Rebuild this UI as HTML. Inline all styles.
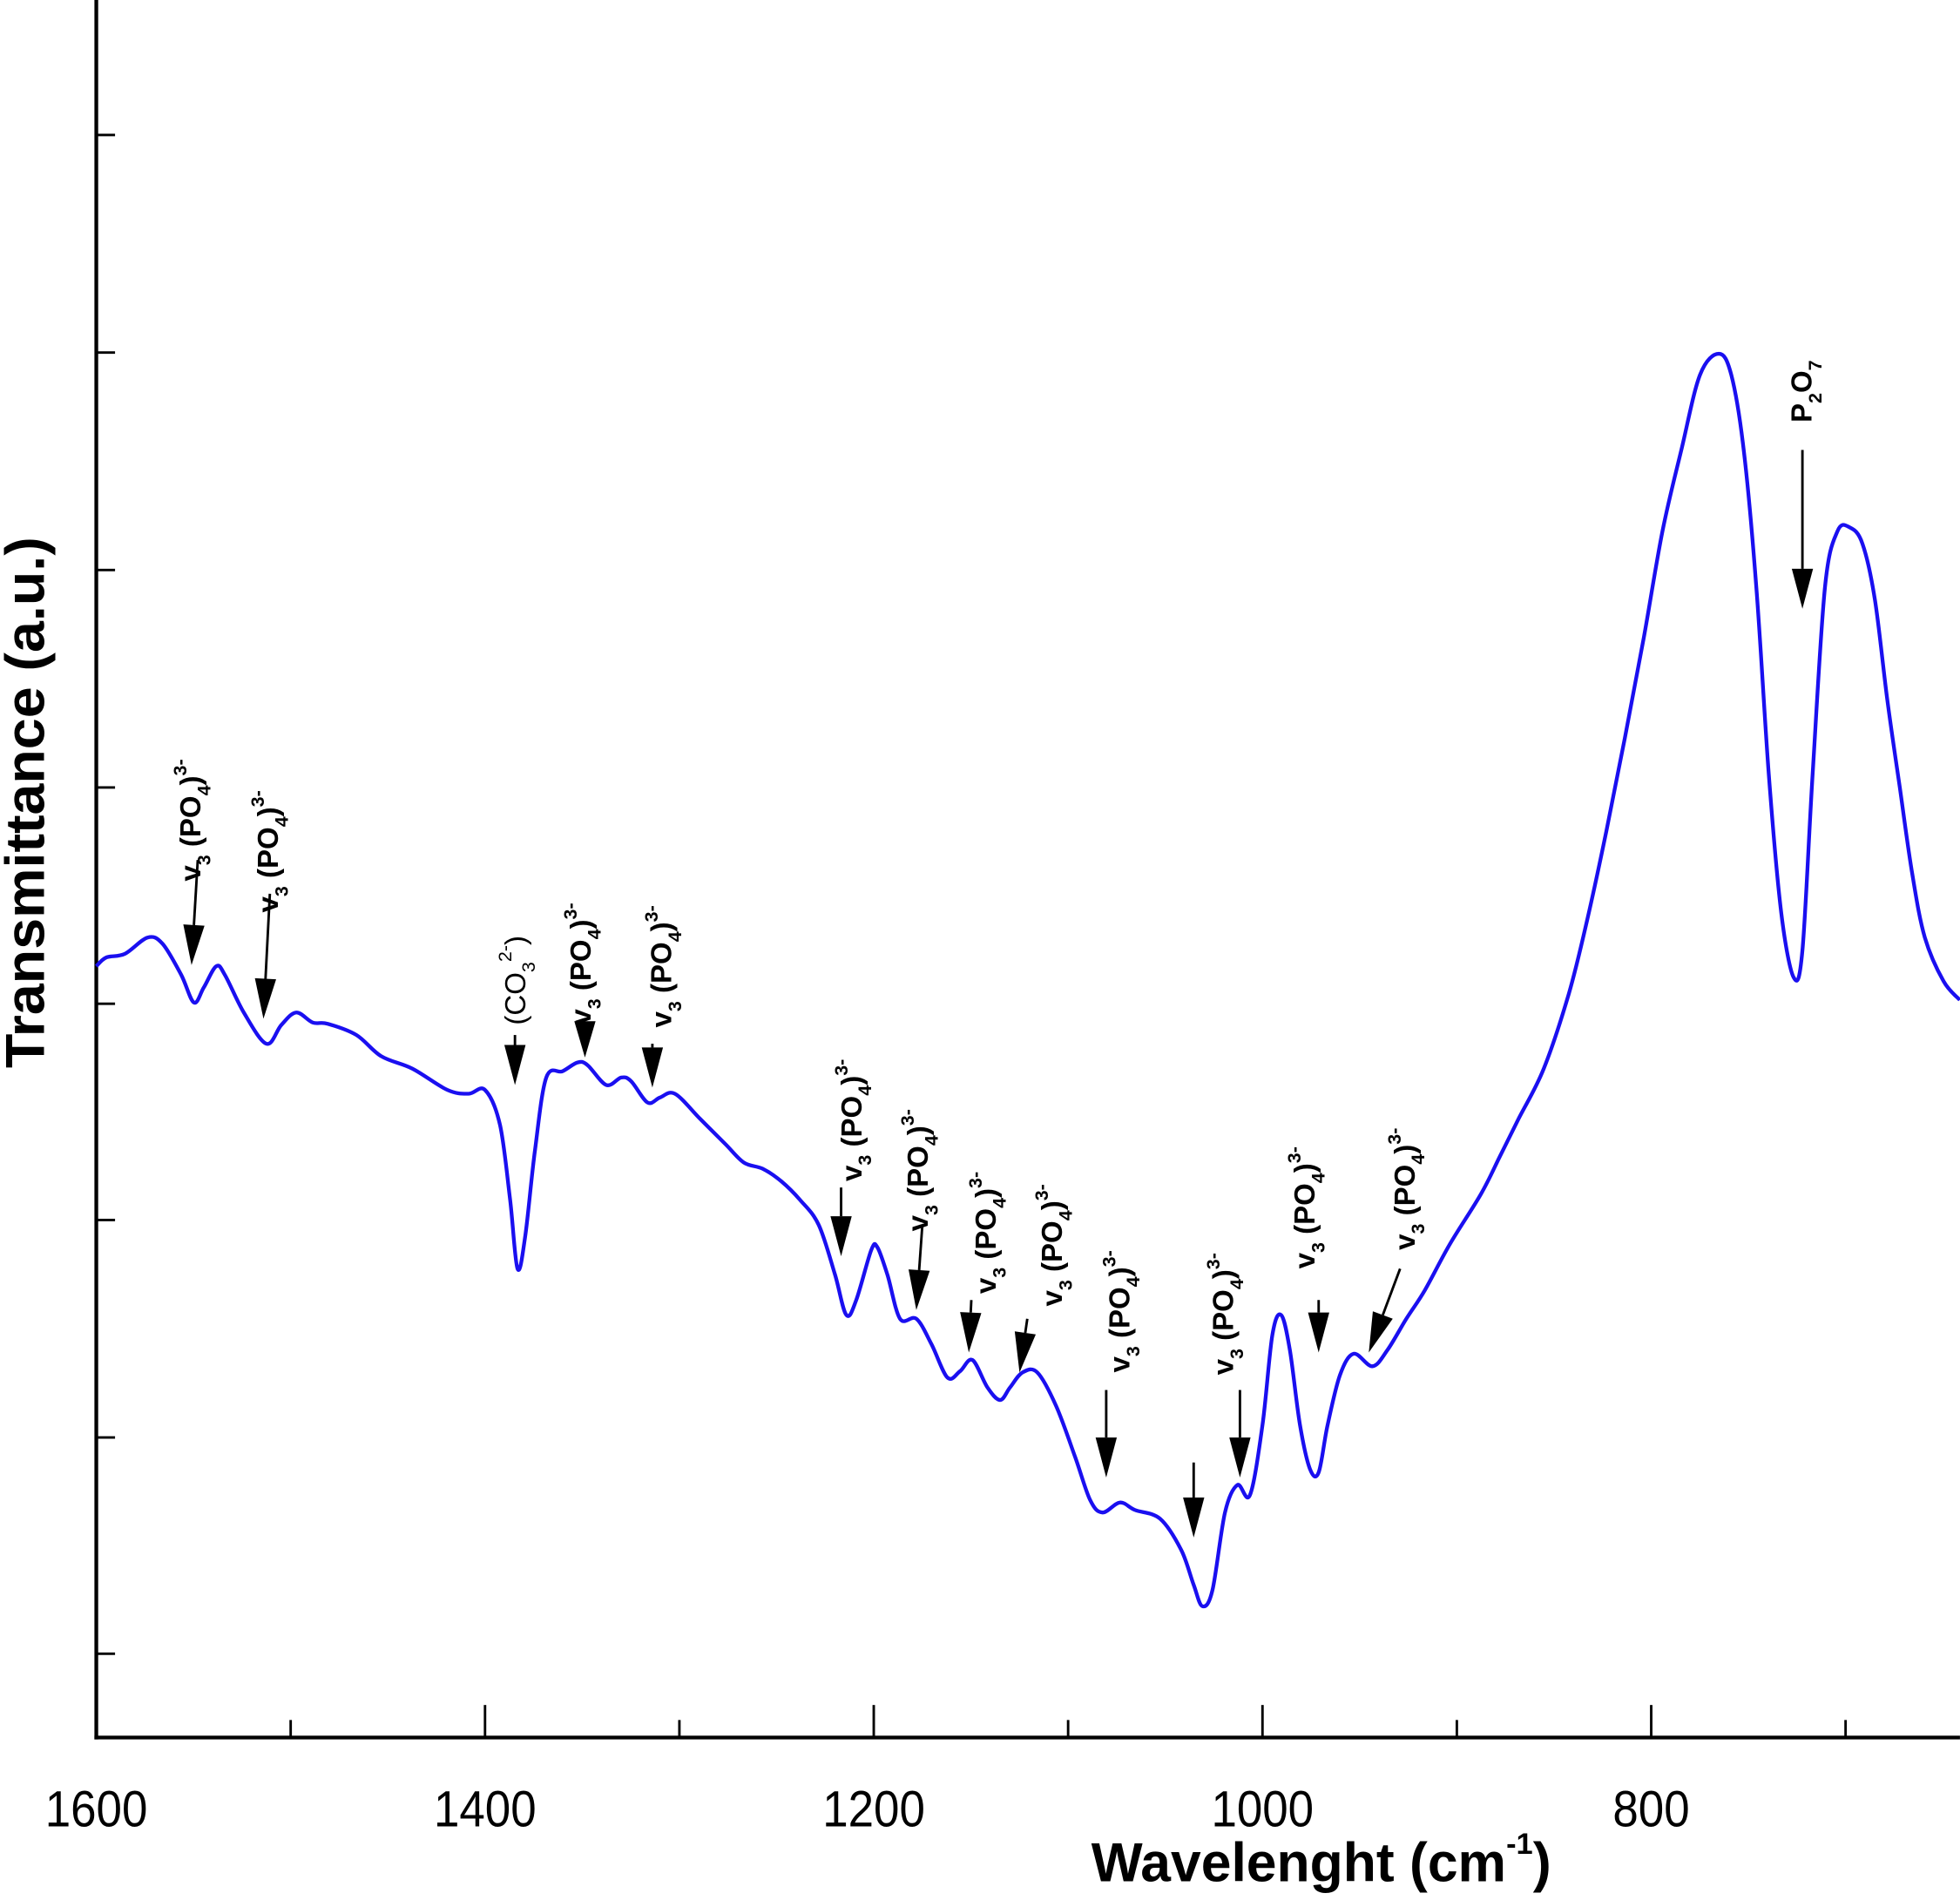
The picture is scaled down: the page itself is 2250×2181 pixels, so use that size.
<!DOCTYPE html>
<html><head><meta charset="utf-8"><style>
html,body{margin:0;padding:0;background:#fff;}
svg{display:block;}
text{font-family:"Liberation Sans",Arial,sans-serif;}
</style></head><body>
<svg id="chart" width="2250" height="2181" viewBox="0 0 1568 1520" xmlns="http://www.w3.org/2000/svg">
<rect width="1568" height="1520" fill="#fff"/>
<g id="axes"></g>
<g id="series"></g>
<g id="annots"></g>
<text transform="translate(35,642) rotate(-90)" text-anchor="middle" font-size="44" font-weight="bold" textLength="425" lengthAdjust="spacingAndGlyphs">Transmittance (a.u.)</text>
<text x="873" y="1505" font-size="44" font-weight="bold"><tspan textLength="332" lengthAdjust="spacingAndGlyphs">Wavelenght (cm</tspan><tspan dy="-22" font-size="24">-1</tspan><tspan dy="22">)</tspan></text>
</svg>
<script>
const wavenumbers=[1600,1594.9,1585.2,1573.6,1565.9,1556.3,1549.8,1544.7,1538.3,1533.8,1524.1,1512.5,1504.8,1497.1,1488.7,1481.0,1466.2,1453.4,1437.3,1419.3,1408.4,1400,1392.3,1387.1,1383.3,1379.4,1374.3,1368.5,1360.1,1352.4,1347.3,1337.6,1329.9,1324.8,1316.4,1310.0,1302.3,1289.4,1276.5,1266.9,1257.2,1247.6,1237.9,1228.3,1219.9,1214.1,1209.0,1201.3,1198.1,1192.9,1186.5,1178.1,1170.4,1162.1,1155.6,1149.2,1141.5,1135.0,1129.9,1123.5,1115.8,1106.1,1096.5,1088.7,1082.3,1073.3,1065.6,1052.7,1041.8,1035.4,1030.9,1025.7,1019.3,1012.9,1006.4,1000.0,994.9,990.4,985.9,980.7,975.6,971.1,966.5,960.1,953.1,943.4,935.7,926.0,916.4,903.5,887.5,877.8,868.2,855.3,842.4,832.8,823.1,813.5,803.8,794.2,784.5,774.9,765.2,758.8,752.4,745.9,739.5,733.1,726.7,722.2,717.0,710.6,704.2,697.8,691.3,684.9,678.5,672.1,665.6,659.2,649.6,641.2];
const transmittance=[61.7,62.4,62.7,64.0,63.5,61.0,58.8,60.0,61.7,61.0,58.0,55.5,57.0,58.0,57.2,57.1,56.2,54.5,53.5,51.8,51.5,51.8,49.0,43.0,37.5,40.0,47.0,52.8,53.3,54.0,53.8,52.2,52.8,52.5,50.8,51.2,51.5,49.5,47.5,46.0,45.5,44.5,43.0,41.0,37.0,33.8,35.0,39.0,39.2,37.0,33.5,33.5,31.5,28.8,29.3,30.2,28.0,27.0,28.0,29.2,29.2,26.5,22.5,19.0,18.0,18.8,18.2,17.5,15.0,12.2,10.5,11.8,18.0,20.2,19.4,25.0,32.2,33.8,31.0,25.0,21.5,21.2,25.0,29.0,30.7,29.7,31.0,33.5,35.8,39.5,43.5,46.5,49.5,53.5,59.5,65.5,72.5,80.0,88.0,96.5,103.0,109.0,110.7,109.0,103.0,92.0,77.0,66.0,60.8,63.0,77.0,92.0,96.5,96.8,95.5,91.0,83.0,76.0,69.0,64.0,60.5,59.0];
const xMajorTicks=[1600,1400,1200,1000,800];
const xMinorTicks=[1500,1300,1100,900,700];
const xTickLabels=["1600","1400","1200","1000","800"];
const yTicks=[128.2,110.8,93.4,76.0,58.7,41.4,24.0,6.7];
// annotations: [tail wavenumber, tail value, tip wavenumber, tip value]
const arrowData=[[1547.8,70.2,1551,61.8],[1510.7,67.5,1514,57.5],[1384.6,56.2,1384.6,52.2],[1348.6,57.3,1348.6,54.4],[1313.9,55.5,1313.9,52],[1216.8,44,1216.8,38.5],[1175,41,1178.1,34.2],[1149.8,35,1151.1,30.8],[1121,33.5,1125,29.2],[1080.4,27.8,1080.4,20.8],[1035.4,22,1035.4,16],[1011.6,27.8,1011.6,20.8],[971.1,35,971.1,30.8],[929.2,37.5,945.3,30.8],[722.2,103,722.2,90.3]];
const labelPos=[[1546.5,68.5],[1506.6,66],[1379.4,57],[1345.7,57],[1304.2,56.8],[1206.4,44.5],[1172.3,40.5],[1137.3,35.5],[1103.2,34.5],[1068.5,29.2],[1015.1,29],[973.3,37.5],[921.8,39],[717.6,105.2]];
const labelKinds=["po4","po4","co3","po4","po4","po4","po4","po4","po4","po4","po4","po4","po4","p2o7"];

const NS="http://www.w3.org/2000/svg";
const X0=77,Y0=1390;
function xs(w){return X0+(1600-w)*1.555;}
function ys(v){return Y0-v*10;}
function mk(tag,attrs,parent){const e=document.createElementNS(NS,tag);for(const k in attrs)e.setAttribute(k,attrs[k]);parent.appendChild(e);return e;}
const axes=document.getElementById('axes');
let yl=mk('line',{x1:X0,y1:0,x2:X0,y2:Y0+1.5,stroke:'#000','stroke-width':3},axes);


let xl=mk('line',{x1:X0-1.5,y1:Y0,x2:1568,y2:Y0,stroke:'#000','stroke-width':3},axes);


xMajorTicks.forEach((t,i)=>{
  const l=mk('line',{x1:xs(t),y1:Y0,x2:xs(t),y2:Y0-26,stroke:'#000','stroke-width':2},axes);
  
  
  const tx=mk('text',{x:xs(t),y:1461,'text-anchor':'middle','font-size':41,textLength:xTickLabels[i].length*20.5,lengthAdjust:'spacingAndGlyphs'},axes);
  tx.textContent=xTickLabels[i];
  
  
});
xMinorTicks.forEach(t=>{
  const l=mk('line',{x1:xs(t),y1:Y0,x2:xs(t),y2:Y0-14,stroke:'#000','stroke-width':2},axes);
  
  
});
yTicks.forEach(t=>{
  const l=mk('line',{x1:X0,y1:ys(t),x2:X0+15,y2:ys(t),stroke:'#000','stroke-width':2},axes);
  
  
});
const pts=wavenumbers.map((w,i)=>[xs(w),ys(transmittance[i])]);
let d='M'+pts[0][0]+','+pts[0][1];
for(let i=0;i<pts.length-1;i++){
  const p0=pts[Math.max(0,i-1)],p1=pts[i],p2=pts[i+1],p3=pts[Math.min(pts.length-1,i+2)];
  const c1=[p1[0]+(p2[0]-p0[0])/6,p1[1]+(p2[1]-p0[1])/6];
  const c2=[p2[0]-(p3[0]-p1[0])/6,p2[1]-(p3[1]-p1[1])/6];
  d+=' C'+c1[0].toFixed(1)+','+c1[1].toFixed(1)+' '+c2[0].toFixed(1)+','+c2[1].toFixed(1)+' '+p2[0].toFixed(1)+','+p2[1].toFixed(1);
}
const path=mk('path',{d:d,fill:'none',stroke:'#1a0ff0','stroke-width':3,'stroke-linejoin':'round'},document.getElementById('series'));


const an=document.getElementById('annots');
arrowData.forEach(a=>{
  const x1=xs(a[0]),y1=ys(a[1]),x2=xs(a[2]),y2=ys(a[3]);
  const dx=x2-x1,dy=y2-y1,L=Math.hypot(dx,dy),ux=dx/L,uy=dy/L;
  const hl=Math.min(32,L),hw=8.5;
  const bx=x2-ux*hl,by=y2-uy*hl;
  const g=mk('g',{},an);
  
  
  mk('line',{x1:x1,y1:y1,x2:bx,y2:by,stroke:'#000','stroke-width':2},g);
  mk('polygon',{points:`${x2},${y2} ${bx-uy*hw},${by+ux*hw} ${bx+uy*hw},${by-ux*hw}`,fill:'#000'},g);
});
labelPos.forEach((p,i)=>{
  const x=xs(p[0]),y=ys(p[1]);
  const t=mk('text',{transform:`translate(${x},${y}) rotate(-90)`,'font-size':23,'font-weight':'bold'},an);
  
  
  const k=labelKinds[i];
  if(k==='po4'){
    t.innerHTML='v<tspan dy="8" font-size="15">3</tspan><tspan dy="-8"> (PO</tspan><tspan dy="8" font-size="15">4</tspan><tspan dy="-8">)</tspan><tspan dy="-11" font-size="15">3-</tspan>';
  }else if(k==='co3'){
    t.setAttribute('font-weight','normal');
    t.innerHTML='(CO<tspan dy="8" font-size="15">3</tspan><tspan dy="-19" font-size="15">2-</tspan><tspan dy="11">)</tspan>';
  }else{
    t.innerHTML='P<tspan dy="8" font-size="15">2</tspan><tspan dy="-8">O</tspan><tspan dy="8" font-size="15">7</tspan>';
  }
});
</script>
</body></html>
